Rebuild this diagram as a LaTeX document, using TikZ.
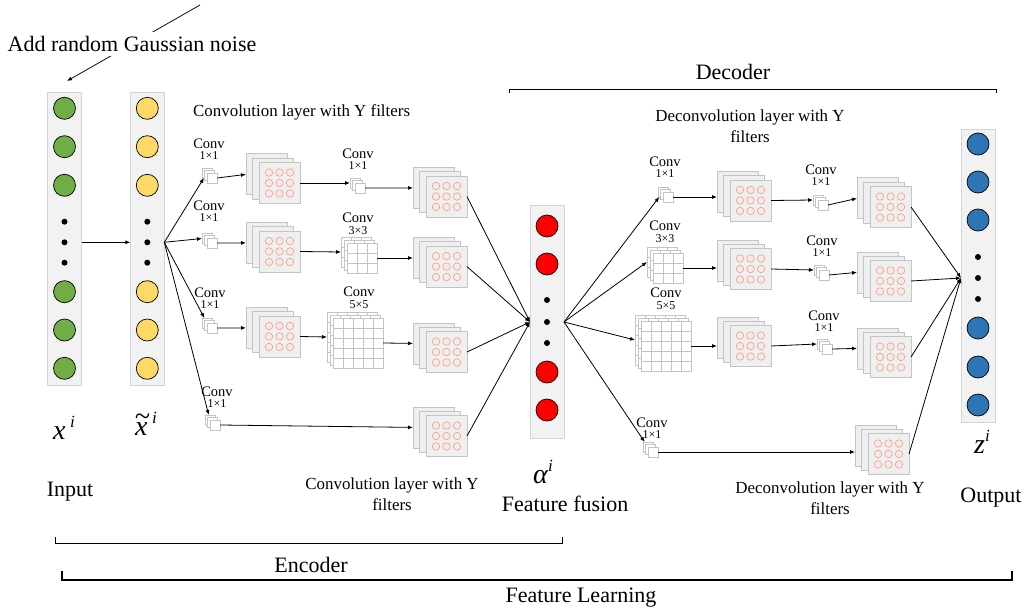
\documentclass[tikz,border=0pt]{standalone}
\usepackage{fontspec}
\setmainfont{Liberation Serif}
\usetikzlibrary{arrows.meta,calc}

\definecolor{colfill}{HTML}{F2F2F2}
\definecolor{colline}{HTML}{D4D4D4}
\definecolor{ingreen}{HTML}{70AD47}
\definecolor{noisyel}{HTML}{FFD966}
\definecolor{fusred}{HTML}{FF0000}
\definecolor{outblue}{HTML}{2E75B6}
\definecolor{sheetfill}{HTML}{EFEFEF}
\definecolor{sheetline}{HTML}{C4C4C4}
\definecolor{unitfill}{HTML}{FCE8E2}
\definecolor{unitline}{HTML}{E2A398}

\tikzset{
  column/.style={draw=colline, fill=colfill, line width=0.8pt, minimum width=34pt, inner sep=0pt, outer sep=0pt},
  neuron/.style={circle, draw=black, line width=0.7pt, minimum size=22pt, inner sep=0pt},
  dotn/.style={circle, fill=black, minimum size=6pt, inner sep=0pt},
  sheet/.style={draw=sheetline, fill=sheetfill, line width=0.8pt, minimum size=41pt, inner sep=0pt, outer sep=0pt},
  unit/.style={circle, draw=unitline, fill=unitfill, line width=0.6pt, minimum size=7.5pt, inner sep=0pt},
  kern/.style={draw=sheetline, fill=white, line width=0.7pt, minimum size=10pt, inner sep=0pt, outer sep=0pt},
  gridsheet/.style={draw=sheetline, fill=white, line width=0.7pt, inner sep=0pt, outer sep=0pt},
  gridline/.style={draw=sheetline, line width=0.7pt},
  link/.style={line width=0.8pt, -{Latex[length=5pt,width=4pt]}},
  plain/.style={line width=0.8pt},
  biglbl/.style={font=\fontsize{22}{26}\selectfont, inner sep=0pt},
  caption/.style={font=\fontsize{16.9}{21}\selectfont, align=center, inner sep=0pt},
  klbl/.style={font=\fontsize{14.5}{11.5}\selectfont, align=center, inner sep=0pt},
  mathlbl/.style={font=\fontsize{28}{28}\selectfont, inner sep=0pt},
}

% kernel size under a "Conv" label
\newcommand\ksz[1]{{\fontsize{12}{11.5}\selectfont #1}}
% raised index letter
\newcommand\idx[1]{\raisebox{0.45em}{\fontsize{17}{17}\selectfont\textit{#1}}}
% x with a wide tilde above it
\newcommand\tildex{\makebox[0pt][l]{\raisebox{0.38em}{\kern-0.02em\textit{\char"007E}}}\textit{x}}

% stack of three feature maps; (#2,#3) is the centre of the front sheet
\newcommand\fmap[3]{%
  \node[sheet] (#1b) at (#2-13,#3-8.6) {};
  \node[sheet] (#1m) at (#2-6.5,#3-4.3) {};
  \node[sheet] (#1) at (#2,#3) {};
  \foreach \u in {-1,0,1}{\foreach \v in {-1,0,1}{\node[unit] at (#2+\u*10.5,#3+\v*10.5) {};}}
}
% stack of three 1x1 kernels; (#2,#3) is the centre of the front square
\newcommand\kone[3]{%
  \node[kern] (#1b) at (#2-5,#3-5) {};
  \node[kern] (#1m) at (#2-2.5,#3-2.5) {};
  \node[kern] (#1) at (#2,#3) {};
}
% stack of three gridded kernels: name, side, inner line offsets, centre of front layer
\newcommand\kgrid[5]{%
  \foreach \s/\nm in {6/#1b,3/#1m,0/#1}{
    \node[gridsheet, minimum size=#2] (\nm) at (#4-\s,#5-\s) {};
    \foreach \k in {#3}{
      \draw[gridline] ([xshift=\k pt]\nm.north west) -- ([xshift=\k pt]\nm.south west);
      \draw[gridline] ([yshift=-\k pt]\nm.north west) -- ([yshift=-\k pt]\nm.north east);
    }
  }
}

\begin{document}
\begin{tikzpicture}[x=1pt,y=-1pt]
\useasboundingbox (0,0) rectangle (1024,612);

% ---------- noise annotation ----------
\coordinate (nz0) at (200,5);
\coordinate (nz1) at (67,81);
\draw[link] (nz0) -- (nz1);
\node[biglbl, fill=white, inner sep=4pt] (noise) at (132,44) {Add random Gaussian noise};

% ---------- vector columns ----------
\node[column, minimum height=293pt] (inp) at (64.5,238.5) {};
\foreach \y in {108.3,146.7,185.3,291.7,330,368.3} \node[neuron, fill=ingreen] at (64.5,\y) {};
\foreach \y/\n in {221.7/1,242.3/2,262.7/3} \node[dotn] (id\n) at (64.5,\y) {};

\node[column, minimum height=293pt] (noisy) at (147.3,238.5) {};
\foreach \y in {108.3,146.7,185.3,291.7,330,368.3} \node[neuron, fill=noisyel] at (147.3,\y) {};
\foreach \y/\n in {221.7/1,242.3/2,262.7/3} \node[dotn] (nd\n) at (147.3,\y) {};

\node[column, minimum height=233pt] (fus) at (547,321.5) {};
\foreach \y in {226,264,372,410} \node[neuron, fill=fusred] at (547,\y) {};
\foreach \y/\n in {300/1,322/2,343/3} \node[dotn] (fd\n) at (547,\y) {};

\node[column, minimum height=293pt] (out) at (978,275.5) {};
\foreach \y in {144,182,220,328,367,405} \node[neuron, fill=outblue] at (978,\y) {};
\foreach \y/\n in {257/1,278/2,299/3} \node[dotn] (od\n) at (978,\y) {};

\coordinate (nout) at (noisy.east |- nd2);
\coordinate (fin) at (fus.west |- fd2);
\coordinate (fout) at (fus.east |- fd2);
\coordinate (oin) at (out.west |- od2);

\draw[link] (inp.east |- id2) -- (noisy.west |- nd2);

% ---------- encoder ----------
\kone{c11}{212}{178}
\fmap{a1}{279.5}{183}
\kone{c12}{360}{188}
\fmap{b1}{446.5}{196.5}

\kone{c21}{212}{243}
\fmap{a2}{279.5}{251.5}
\kgrid{g3}{30pt}{10,20}{362}{258}
\fmap{b2}{446.5}{266.6}

\kone{c31}{212}{328}
\fmap{a3}{279.5}{336.5}
\kgrid{g5}{50pt}{10,20,30,40}{358}{343}
\fmap{b3}{446.5}{352}

\kone{c41}{215}{425}
\fmap{b4}{446.5}{436}

\node[klbl] (l11) at (209,149) {Conv\\\ksz{1×1}};
\node[klbl] (l12) at (358,159) {Conv\\\ksz{1×1}};
\node[klbl] (l21) at (209,211) {Conv\\\ksz{1×1}};
\node[klbl] (l22) at (358,224) {Conv\\\ksz{3×3}};
\node[klbl] (l31) at (210,298) {Conv\\\ksz{1×1}};
\node[klbl] (l32) at (359,298) {Conv\\\ksz{5×5}};
\node[klbl] (l41) at (217,397) {Conv\\\ksz{1×1}};

\draw[link] (nout) -- (c11b);
\draw[link] (nout) -- (c21b);
\draw[link] (nout) -- (c31b);
\draw[link] (nout) -- (c41b);

\draw[link] (c11.east) -- (a1b.west);
\draw[link] (a1.east) -- (c12b.west);
\draw[link] (c12.east) -- (b1b.west);
\draw[link] (c21.east) -- (a2b.west);
\draw[link] (a2.east) -- (g3b.west);
\draw[link] (g3.east) -- (b2b.west);
\draw[link] (c31.east) -- (a3b.west);
\draw[link] (a3.east) -- (g5b.west);
\draw[link] (g5.east) -- (b3b.west);
\draw[link] (c41.east) -- (b4b.west);

\foreach \b in {b1,b2,b3,b4} \draw[link] (\b.east) -- (fin);

% ---------- decoder ----------
\kone{d11}{668}{197}
\fmap{da1}{750.5}{200.5}
\kone{d12}{823}{205}
\fmap{db1}{890.5}{207}

\kgrid{dg3}{30pt}{10,20}{668}{268}
\fmap{da2}{750.5}{269}
\kone{d22}{824}{275}
\fmap{db2}{890.5}{281}

\kgrid{dg5}{50pt}{10,20,30,40}{666}{346}
\fmap{da3}{750.5}{346}
\kone{d32}{827}{349}
\fmap{db3}{890.5}{357}

\kone{d41}{653}{452}
\fmap{db4}{888.5}{454}

\node[klbl] (m11) at (665,167) {Conv\\\ksz{1×1}};
\node[klbl] (m12) at (821,175) {Conv\\\ksz{1×1}};
\node[klbl] (m21) at (665,232) {Conv\\\ksz{3×3}};
\node[klbl] (m22) at (822,246) {Conv\\\ksz{1×1}};
\node[klbl] (m31) at (666,299) {Conv\\\ksz{5×5}};
\node[klbl] (m32) at (824,321) {Conv\\\ksz{1×1}};
\node[klbl] (m41) at (652,428) {Conv\\\ksz{1×1}};

\draw[link] (fout) -- (d11b);
\draw[link] (fout) -- (dg3b.west);
\draw[link] (fout) -- (dg5b.west);
\draw[link] (fout) -- (d41b);

\draw[link] (d11.east) -- (d11.east -| da1b.west);
\draw[link] (da1.east) -- (d12b.west);
\draw[link] (d12.east) -- (db1b.west);
\draw[link] (dg3.east) -- (dg3.east -| da2b.west);
\draw[link] (da2.east) -- (d22b.west);
\draw[link] (d22.east) -- (db2b.west);
\draw[link] (dg5.east) -- (dg5.east -| da3b.west);
\draw[link] (da3.east) -- (d32b.west);
\draw[link] (d32.east) -- (db3b.west);
\draw[link] (d41.east) -- (d41.east -| db4b.west);

\foreach \b in {db1,db2,db3,db4} \draw[link] (\b.east) -- (oin);

% ---------- captions ----------
\node[caption, anchor=west] (enctop) at (193,112) {Convolution layer with Y filters};
\node[caption] (dectop) at (750,126.5) {Deconvolution layer with Y\\filters};
\node[caption] (encbot) at (392,494) {Convolution layer with Y\\filters};
\node[caption] (decbot) at (830,498) {Deconvolution layer with Y\\filters};

\node[mathlbl] (xlab) at (64,428) {\textit{x}\,\idx{i}};
\node[mathlbl] (xtlab) at (146,424) {\tildex\,\idx{i}};
\node[mathlbl] (alab) at (543,472) {\textit{α}\idx{i}};
\node[mathlbl] (zlab) at (982,442) {\textit{z}\idx{i}};

\node[biglbl] (inlab) at (70,492) {Input};
\node[biglbl] (outlab) at (991,498) {Output};
\node[biglbl] (fuslab) at (565,504) {Feature fusion};

% ---------- brackets ----------
\node[biglbl] (declab) at (733,72) {Decoder};
\draw[plain] (509,93) -- ++(0,-4) -| (996,93);

\draw[plain] (55,537) -- ++(0,6) -| (562,537);
\node[biglbl] (enclab) at (311,565) {Encoder};

\draw[line width=2.5pt] (62,571) -- ++(0,9) -| (1012,571);
\node[biglbl] (fllab) at (581,598) {Feature Learning};

\end{tikzpicture}
\end{document}
